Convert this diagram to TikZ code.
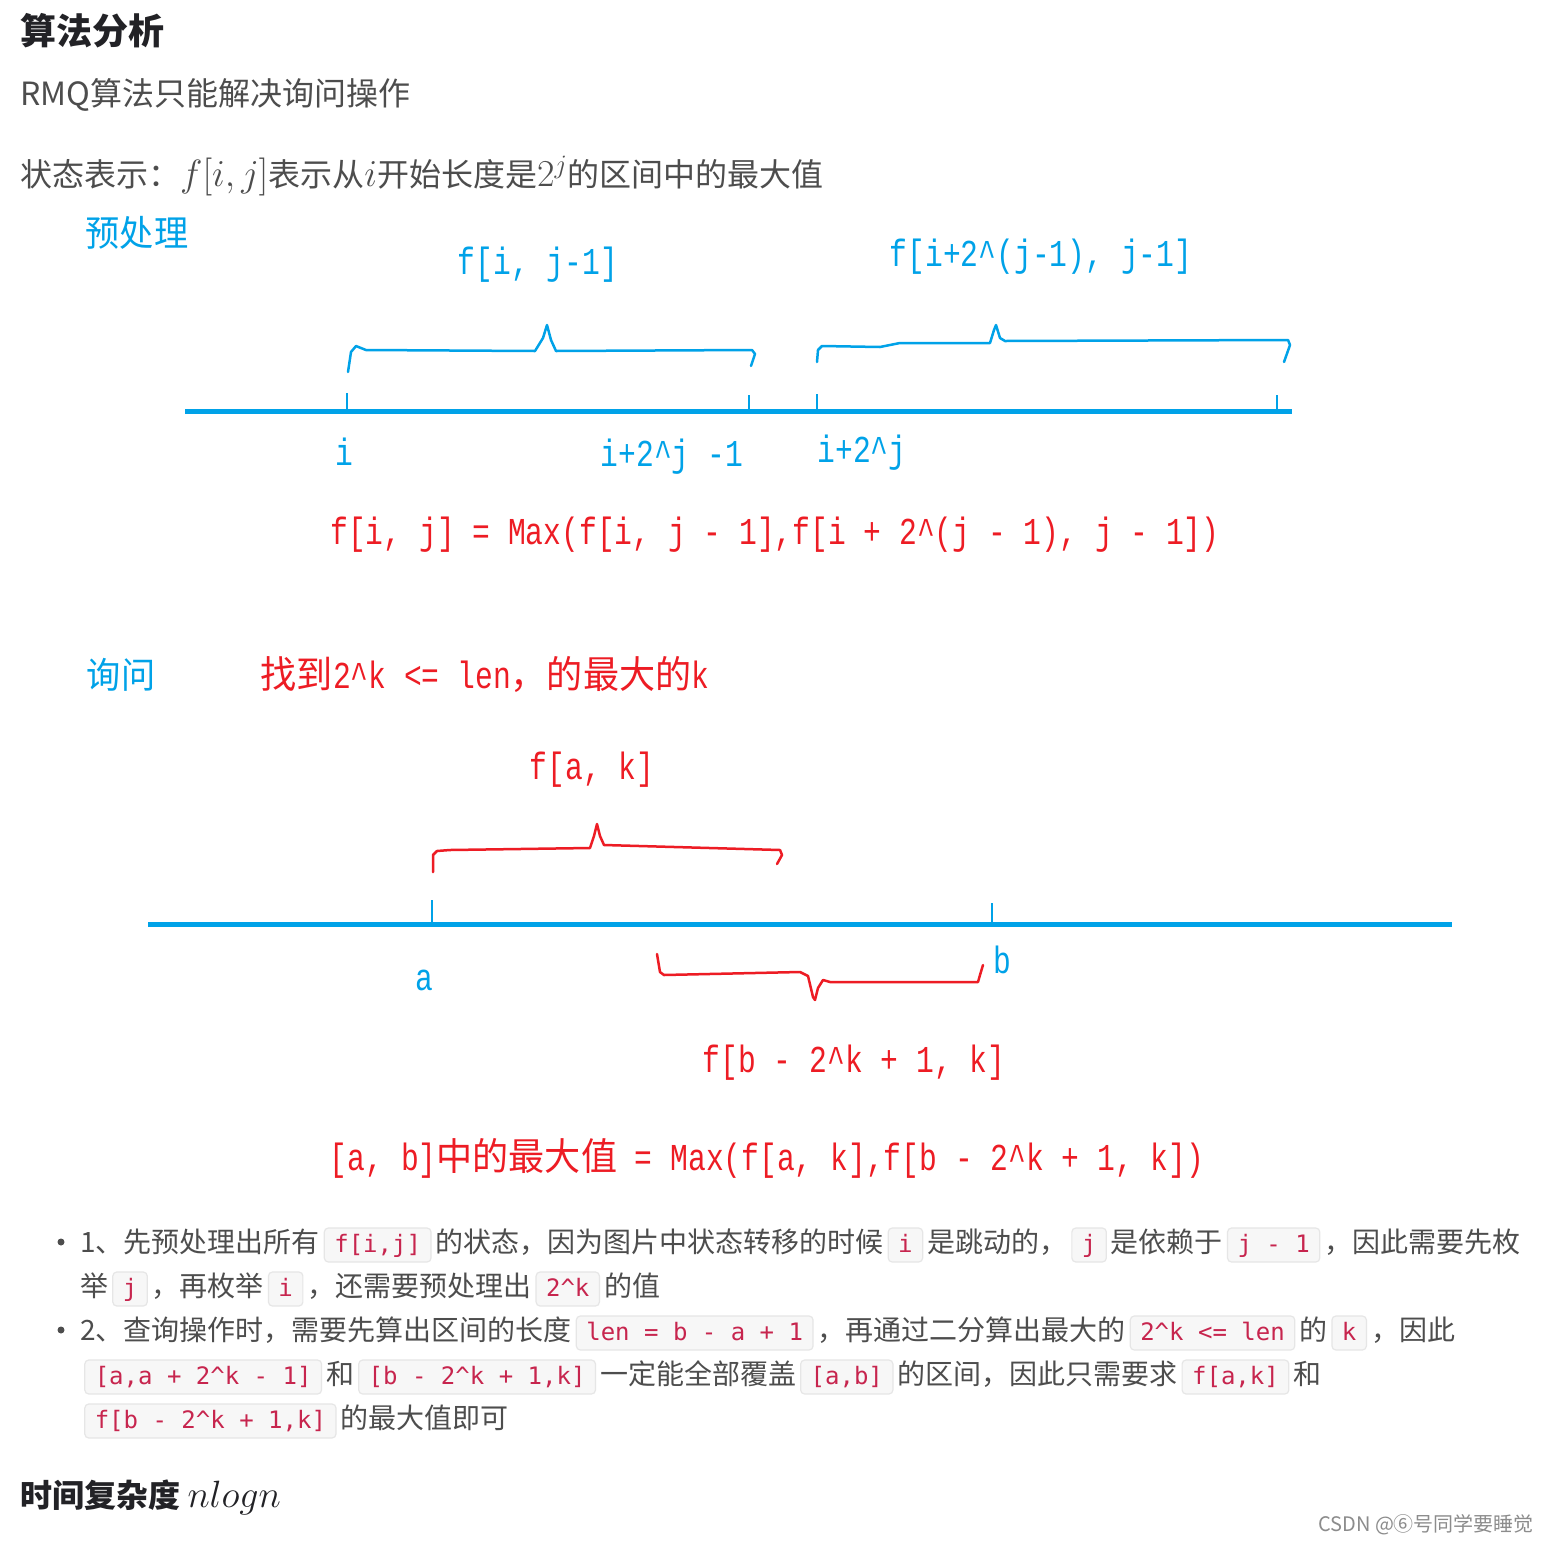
\RequirePackage{fix-cm}
\documentclass[tikz,border=0pt]{standalone}
\usepackage[no-math]{fontspec}
\setmainfont{Noto Sans CJK SC}
\newfontfamily\handfont[FakeStretch=0.78]{Liberation Mono}
\newfontfamily\handcjk[FakeStretch=0.95]{Noto Sans CJK SC}
\newfontfamily\codefont{DejaVu Sans Mono}
\definecolor{bodygray}{HTML}{4D4D4D}
\definecolor{headgray}{HTML}{222226}
\definecolor{paintblue}{HTML}{00A2E8}
\definecolor{paintred}{HTML}{ED1C24}
\definecolor{codetext}{HTML}{C7254E}
\definecolor{codebg}{HTML}{F7F7F7}
\definecolor{codeline}{HTML}{E6E6E6}
\tikzset{
 bodytext/.style={anchor=base west,inner sep=0pt,text=bodygray,font=\fontsize{28}{34}\selectfont},
 toptext/.style={anchor=west,inner sep=0pt,text=bodygray,font=\fontsize{32}{38}\selectfont},
 headtext/.style={anchor=west,inner sep=0pt,text=headgray,font=\fontsize{36}{42}\selectfont\bfseries},
 handlbl/.style={inner sep=0pt,font=\fontsize{38}{44}\selectfont\handfont},
 axis/.style={line width=5pt,draw=paintblue},
 tick/.style={line width=2.5pt,draw=paintblue},
 brace/.style={line width=2.5pt,line join=round,line cap=round},
 codebox/.style={draw=codeline,fill=codebg,rounded corners=4pt,line width=1.2pt,
   text=codetext,font=\fontsize{24}{28}\selectfont\codefont,
   inner xsep=10pt,inner ysep=5pt,text height=19pt,text depth=5pt}
}
\newcommand\code[1]{\hspace{4pt}\tikz[baseline=(c.base)]\node[codebox](c){#1};\hspace{4pt}}
\newcommand\caret{\textasciicircum}
\newcommand\bigmath[1]{{\fontsize{38}{44}\selectfont$#1$}}

\begin{document}
\begin{tikzpicture}[x=1pt,y=-1pt]
\fill[white] (0,0) rectangle (1545,1545);
\useasboundingbox (0,0) rectangle (1545,1545);

% text above the sketch
\node[headtext] (title) at (20,31) {算法分析};
\node[toptext] (intro) at (20,95) {RMQ算法只能解决询问操作};
\node[toptext] (state) at (20,176) {状态表示：\bigmath{f[i,j]}表示从\bigmath{i}开始长度是\bigmath{2^j}的区间中的最大值};

% preprocessing sketch
\node[handlbl,text=paintblue,font=\fontsize{36}{40}\selectfont\handcjk] (pre) at (137,233) {预处理};
\node[handlbl,text=paintblue] (left) at (538,265) {f[i, j-1]};
\node[handlbl,text=paintblue] (right) at (1041,257) {f[i+2\caret(j-1), j-1]};
\draw[brace,paintblue] (348,372) -- (351,352) -- (356,346) -- (366,350) -- (535,351)
  -- (543,338) -- (547,325) -- (551,340) -- (556,351) -- (752,350) -- (755,354) -- (751,366);
\draw[brace,paintblue] (817,362) -- (818,350) -- (822,346) -- (880,347) -- (900,343)
  -- (990,343) -- (994,330) -- (996,325) -- (1000,338) -- (1005,341) -- (1288,340)
  -- (1290,345) -- (1284,362);
\draw[axis] (185,411) -- (1292,411);
\foreach \x/\t in {347/393,749/395,817/394,1277/395}
  \draw[tick] (\x,\t) -- (\x,411);
\node[handlbl,text=paintblue] (pi) at (344,452) {i};
\node[handlbl,text=paintblue] (pend) at (672,457) {i+2\caret j -1};
\node[handlbl,text=paintblue] (pnext) at (862,453) {i+2\caret j};
\node[handlbl,text=paintred] (rec) at (775,535)
  {f[i, j] = Max(f[i, j - 1],f[i + 2\caret(j - 1), j - 1])};

% query sketch
\node[handlbl,text=paintblue,font=\fontsize{36}{40}\selectfont\handcjk] (ask) at (121,675) {询问};
\node[handlbl,text=paintred] (findk) at (485,674)
  {{\fontsize{38}{44}\selectfont\handcjk 找到}2\caret k <= len{\fontsize{38}{44}\selectfont\handcjk ，的最大的}k};
\node[handlbl,text=paintred] (fa) at (592,770) {f[a, k]};
\draw[brace,paintred] (433,872) -- (433,855) -- (437,851) -- (450,850) -- (590,848)
  -- (594,836) -- (597,824) -- (600,836) -- (604,845) -- (780,850) -- (782,855) -- (777,864);
\draw[axis] (148,924) -- (1452,924);
\draw[tick] (432,900) -- (432,924);
\draw[tick] (992,903) -- (992,924);
\node[handlbl,text=paintblue] (qa) at (424,980) {a};
\node[handlbl,text=paintblue] (qb) at (1002,960) {b};
\draw[brace,paintred] (657,954) -- (660,972) -- (664,975) -- (800,972) -- (808,976)
  -- (813,997) -- (815,1000) -- (818,988) -- (823,980) -- (830,982) -- (978,982)
  -- (980,975) -- (983,965);
\node[handlbl,text=paintred] (fb) at (854,1063) {f[b - 2\caret k + 1, k]};
\node[handlbl,text=paintred] (ans) at (767,1158)
  {[a, b]{\handcjk 中的最大值} = Max(f[a, k],f[b - 2\caret k + 1, k])};

% notes below
\fill[bodygray] (61,1242) circle (3.5);
\fill[bodygray] (61,1330) circle (3.5);
\node[bodytext] (n1a) at (80,1252) {1、先预处理出所有\code{f[i,j]}的状态，因为图片中状态转移的时候\code{i}是跳动的，\code{j}是依赖于\code{j - 1}，因此需要先枚};
\node[bodytext] (n1b) at (80,1296) {举\code{j}，再枚举\code{i}，还需要预处理出\code{2\caret k}的值};
\node[bodytext] (n2a) at (80,1340) {2、查询操作时，需要先算出区间的长度\code{len = b - a + 1}，再通过二分算出最大的\code{2\caret k <= len}的\code{k}，因此};
\node[bodytext] (n2b) at (80,1384) {\code{[a,a + 2\caret k - 1]}和\code{[b - 2\caret k + 1,k]}一定能全部覆盖\code{[a,b]}的区间，因此只需要求\code{f[a,k]}和};
\node[bodytext] (n2c) at (80,1428) {\code{f[b - 2\caret k + 1,k]}的最大值即可};

\node[headtext,font=\fontsize{32}{38}\selectfont\bfseries] (cost) at (20,1497) {时间复杂度 \bigmath{nlogn}};
\node[toptext,text=black!45,font=\fontsize{20}{24}\selectfont] (mark) at (1318,1525) {CSDN @⑥号同学要睡觉};
\end{tikzpicture}
\end{document}
